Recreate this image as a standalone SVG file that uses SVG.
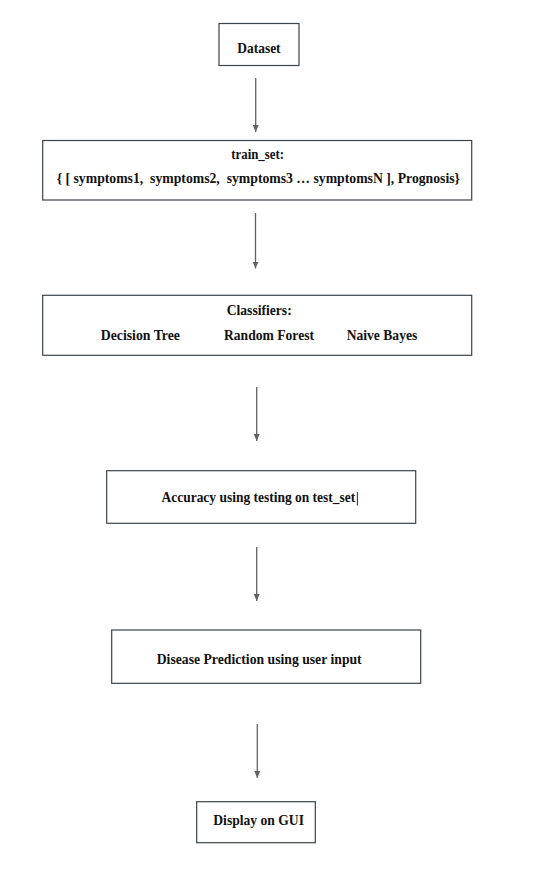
<svg xmlns="http://www.w3.org/2000/svg" width="536" height="873" viewBox="0 0 536 873">
<defs>
<style>
.box{fill:#ffffff;stroke:#3c434b;stroke-width:1.2}
.t{font-family:"Liberation Serif","Times New Roman",serif;font-weight:bold;font-size:14.5px;fill:#111}
.c{stroke:#5f6368;stroke-width:1.3;fill:none;marker-end:url(#ah)}
</style>
<marker id="ah" viewBox="0 0 7 6" refX="7" refY="3" markerWidth="7" markerHeight="6" markerUnits="userSpaceOnUse" orient="auto">
<path d="M0,0 L7,3 L0,6 Z" fill="#5f6368"/>
</marker>
</defs>
<rect width="536" height="873" fill="#ffffff"/>
<g id="connectors">
<line class="c" x1="255.7" y1="78" x2="255.7" y2="132"/>
<line class="c" x1="255.5" y1="213" x2="255.5" y2="268.5"/>
<line class="c" x1="256.7" y1="387" x2="256.7" y2="441"/>
<line class="c" x1="256.7" y1="547" x2="256.7" y2="601"/>
<line class="c" x1="257.3" y1="724" x2="257.3" y2="778"/>
</g>
<g id="dataset">
<rect class="box" x="219" y="23.5" width="80" height="42"/>
<text class="t" x="237.3" y="53" textLength="43.3" lengthAdjust="spacingAndGlyphs">Dataset</text>
</g>
<g id="train_set">
<rect class="box" x="42.7" y="140.5" width="429" height="59.5"/>
<text class="t" x="231.3" y="158.5" textLength="52.7" lengthAdjust="spacingAndGlyphs">train_set:</text>
<text class="t" x="56.7" y="183" textLength="403.3" lengthAdjust="spacingAndGlyphs" xml:space="preserve">{ [ symptoms1,  symptoms2,  symptoms3 … symptomsN ], Prognosis}</text>
</g>
<g id="classifiers">
<rect class="box" x="42.7" y="295.3" width="429" height="60"/>
<text class="t" x="226.7" y="314.5" textLength="65" lengthAdjust="spacingAndGlyphs">Classifiers:</text>
<text class="t" x="100.7" y="340" textLength="79.3" lengthAdjust="spacingAndGlyphs">Decision Tree</text>
<text class="t" x="224" y="340" textLength="90" lengthAdjust="spacingAndGlyphs">Random Forest</text>
<text class="t" x="346.7" y="340" textLength="70.6" lengthAdjust="spacingAndGlyphs">Naive Bayes</text>
</g>
<g id="accuracy">
<rect class="box" x="106.7" y="470.7" width="309" height="52.6"/>
<text class="t" x="161.5" y="502.2" textLength="193.7" lengthAdjust="spacingAndGlyphs">Accuracy using testing on test_set</text>
<line x1="357.4" y1="492" x2="357.4" y2="505.5" stroke="#111" stroke-width="0.9"/>
</g>
<g id="prediction">
<rect class="box" x="111.7" y="630" width="309" height="53.3"/>
<text class="t" x="156.7" y="663.5" textLength="205" lengthAdjust="spacingAndGlyphs">Disease Prediction using user input</text>
</g>
<g id="gui">
<rect class="box" x="196.7" y="801.7" width="118.6" height="41"/>
<text class="t" x="213.3" y="825.3" textLength="90.7" lengthAdjust="spacingAndGlyphs">Display on GUI</text>
</g>
</svg>
